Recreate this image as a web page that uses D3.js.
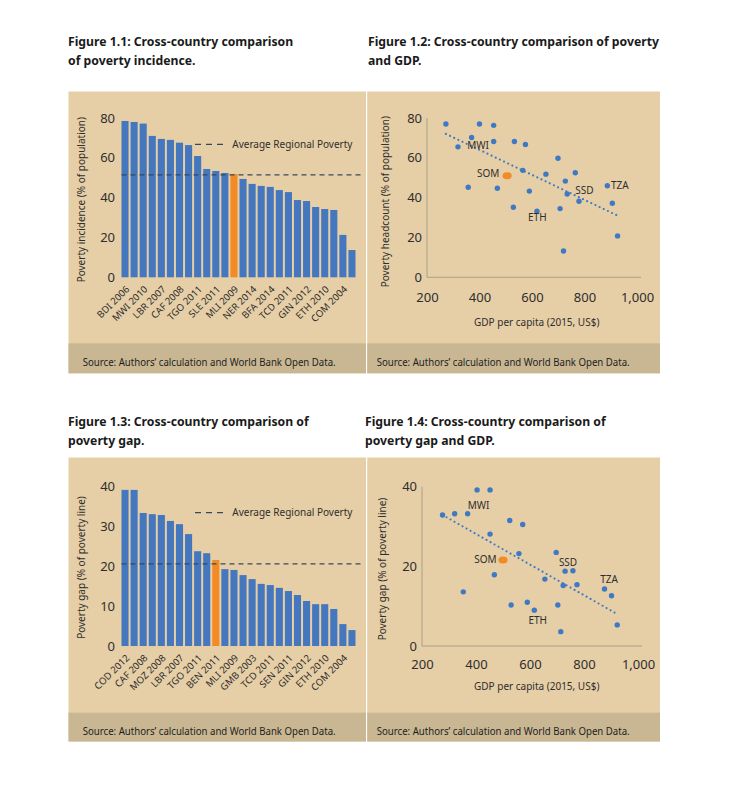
<!DOCTYPE html>
<html>
<head>
<meta charset="utf-8">
<script src="https://cdn.jsdelivr.net/npm/d3@7"></script>
<style>
    body { margin: 0; background: #fff; }
    svg { display: block; font-family: "Noto Sans", sans-serif; }
</style>
</head>
<body>
<svg id="page" width="743" height="786"></svg>
<script>

// ---- data ----
const incidenceLabels = ["BDI 2006", "MWI 2010", "LBR 2007", "CAF 2008", "TGO 2011", "SLE 2011", "MLI 2009",
    "NER 2014", "BFA 2014", "TCD 2011", "GIN 2012", "ETH 2010", "COM 2004"]
const incidenceValues = [78.5, 78.0, 77.2, 71.0, 69.5, 69.0, 67.6, 66.4, 60.9, 54.4, 53.4, 52.4, 51.9,
    49.4, 46.9, 45.9, 45.4, 43.8, 42.8, 38.8, 38.3, 35.3, 34.3, 33.8, 21.3, 13.7]
const incidenceHighlight = 12
const incidenceAverage = 51.4

const gapLabels = ["COD 2012", "CAF 2008", "MOZ 2008", "LBR 2007", "TGO 2011", "BEN 2011", "MLI 2009",
    "GMB 2003", "TCD 2011", "SEN 2011", "GIN 2012", "ETH 2010", "COM 2004"]
const gapValues = [39.2, 39.2, 33.4, 33.1, 32.9, 31.4, 30.6, 28.1, 23.8, 23.3, 21.6, 19.3, 19.1,
    17.8, 16.8, 15.6, 15.3, 14.6, 13.8, 12.8, 11.3, 10.5, 10.5, 9.3, 5.5, 4.0]
const gapHighlight = 10
const gapAverage = 20.6

const headcountGdp = [272, 400, 454, 370, 318, 454, 533, 575, 699, 565, 653, 765, 727,
    357, 468, 590, 734, 779, 887, 906, 529, 619, 707, 926, 720]
const headcountValue = [77, 77, 76.3, 70.2, 65.5, 68.2, 68.2, 66.7, 59.8, 53.7, 51.8, 52.5, 48.3,
    45.2, 44.7, 43.3, 41.8, 38.2, 46, 37.2, 35.2, 33.2, 34.5, 20.8, 13.2]
const headcountSom = { gdp: 505, value: 51 }
const headcountTrend = [{ gdp: 272, value: 72 }, { gdp: 932, value: 30.6 }]
const headcountNames = [
    { code: "MWI", gdp: 353, value: 64.4, anchor: "start" },
    { code: "SOM", gdp: 476, value: 50.2, anchor: "end" },
    { code: "SSD", gdp: 765, value: 41.6, anchor: "start" },
    { code: "TZA", gdp: 901, value: 44.1, anchor: "start" },
    { code: "ETH", gdp: 585, value: 28.1, anchor: "start" }
]

const gapGdp = [276, 321, 369, 404, 452, 452, 525, 573, 559, 468, 353, 530, 590,
    616, 655, 697, 730, 759, 723, 774, 703, 714, 876, 902, 923]
const gapValue = [32.9, 33.2, 33.2, 39.2, 39.2, 28.1, 31.5, 30.5, 23.2, 17.9, 13.6, 10.3, 11.0,
    9.0, 16.8, 23.5, 18.8, 18.9, 15.2, 15.4, 10.3, 3.6, 14.3, 12.6, 5.3]
const gapSom = { gdp: 500, value: 21.6 }
const gapTrend = [{ gdp: 276, value: 32.9 }, { gdp: 926, value: 7.9 }]
const gapNames = [
    { code: "MWI", gdp: 369, value: 34.5, anchor: "start" },
    { code: "SOM", gdp: 476, value: 20.8, anchor: "end" },
    { code: "SSD", gdp: 707, value: 20.1, anchor: "start" },
    { code: "TZA", gdp: 860, value: 15.8, anchor: "start" },
    { code: "ETH", gdp: 594, value: 5.5, anchor: "start" }
]

const gdpTicks = [200, 400, 600, 800, 1000]
const sourceText = "Source: Authors\u2019 calculation and World Bank Open Data."

// ---- style ----
const col = {
    bg: "#e6cfa6", band: "#c9b793", bar: "#4477be", hi: "#f28a26",
    avg: "#34495e", dot: "#3f79c3", text: "#2e2e2e", axis: "#a8a08c"
}

const svg = d3.select("#page")
svg.append("rect").attr("width", 743).attr("height", 786).attr("fill", "#fff")

function squeeze(sel, ratio) {
    sel.each(function () {
        let w = this.getComputedTextLength()
        d3.select(this).attr("textLength", w * ratio).attr("lengthAdjust", "spacingAndGlyphs")
    })
}

function panel(x0, x1, y0, y1, bandTop, srcX) {
    svg.append("rect").attr("x", x0).attr("y", y0).attr("width", x1 - x0).attr("height", y1 - y0).attr("fill", col.bg)
    svg.append("rect").attr("x", x0).attr("y", bandTop).attr("width", x1 - x0).attr("height", y1 - bandTop).attr("fill", col.band)
    let t = svg.append("text").attr("x", srcX).attr("y", bandTop + 22.5)
        .attr("font-size", 10.8).attr("fill", "#1e1e1e").text(sourceText)
    let w = t.node().getComputedTextLength()
    squeeze(t, 253 / w)
}

let titleRatio = null
function title(x, y, lines) {
    let texts = lines.map((l, i) => svg.append("text").attr("x", x).attr("y", y + i * 19.5)
        .attr("font-size", 13.2).attr("font-weight", "bold").attr("fill", "#1a1a1a").text(l))
    if (titleRatio === null) titleRatio = 291 / texts[0].node().getComputedTextLength()
    texts.forEach(t => squeeze(t, titleRatio))
}

function yTitle(cx, cy, label) {
    svg.append("text").attr("transform", `translate(${cx + 3.5},${cy}) rotate(-90)`)
        .attr("text-anchor", "middle").attr("font-size", 10).attr("fill", col.text).text(label)
}

function drawBars(cfg) {
    let x = d3.scaleBand().domain(d3.range(cfg.values.length)).range([121.5, 355.5]).paddingInner(0.22)
    let y = d3.scaleLinear().domain([0, cfg.max]).range([cfg.bottom, cfg.top])
    let g = svg.append("g")

    g.selectAll("rect").data(cfg.values).join("rect")
        .attr("x", (d, i) => x(i)).attr("width", x.bandwidth())
        .attr("y", d => y(d)).attr("height", d => y(0) - y(d))
        .attr("fill", (d, i) => i === cfg.highlight ? col.hi : col.bar)

    g.append("line").attr("x1", 121.5).attr("x2", 364).attr("y1", y(cfg.average)).attr("y2", y(cfg.average))
        .attr("stroke", col.avg).attr("stroke-width", 1.2).attr("stroke-dasharray", "5,4")

    let ya = g.append("g").attr("transform", "translate(121,0)")
        .call(d3.axisLeft(y).tickValues(cfg.ticks).tickSize(0).tickPadding(6))
    ya.select(".domain").remove()
    ya.selectAll("text").attr("font-size", 13).attr("font-family", "Noto Sans").attr("fill", col.text)

    let xa = g.append("g").attr("transform", `translate(0,${cfg.bottom})`)
        .call(d3.axisBottom(x).tickValues(d3.range(0, cfg.values.length, 2))
            .tickFormat(i => cfg.labels[i / 2]).tickSize(0))
    xa.select(".domain").remove()
    xa.selectAll("text").attr("y", 0).attr("dy", 0).attr("text-anchor", "end")
        .attr("transform", "translate(5,12.5) rotate(-45)")
        .attr("font-size", 9.6).attr("font-family", "Noto Sans").attr("fill", col.text)

    // legend
    let ly = y(cfg.legendAt)
    g.append("line").attr("x1", 195).attr("x2", 225).attr("y1", ly).attr("y2", ly)
        .attr("stroke", col.avg).attr("stroke-width", 1.2).attr("stroke-dasharray", "6,5")
    g.append("text").attr("x", 232.3).attr("y", ly + 3.6).attr("font-size", 10).attr("fill", col.text)
        .text("Average Regional Poverty")
}

function drawScatter(cfg) {
    let x = d3.scaleLinear().domain([200, 1000]).range(cfg.xr)
    let y = d3.scaleLinear().domain([0, cfg.max]).range([cfg.bottom, cfg.top])
    let g = svg.append("g")

    g.append("path").attr("d", `M${x(200)},${y(cfg.max)}V${y(0)}H${cfg.xr[1] + 4}`)
        .attr("fill", "none").attr("stroke", col.axis).attr("stroke-width", 1)

    let ya = g.append("g").attr("transform", `translate(${x(200)},0)`)
        .call(d3.axisLeft(y).tickValues(cfg.ticks).tickSize(0).tickPadding(5))
    ya.select(".domain").remove()
    ya.selectAll("text").attr("font-size", 13).attr("font-family", "Noto Sans").attr("fill", col.text)

    let xa = g.append("g").attr("transform", `translate(0,${y(0)})`)
        .call(d3.axisBottom(x).tickValues(gdpTicks).tickSize(0).tickPadding(cfg.xPad)
            .tickFormat(d3.format(",")))
    xa.select(".domain").remove()
    xa.selectAll("text").attr("font-size", 13).attr("font-family", "Noto Sans").attr("fill", col.text)

    let line = d3.line().x(d => x(d.gdp)).y(d => y(d.value))
    g.append("path").attr("d", line(cfg.trend)).attr("fill", "none").attr("stroke", col.dot)
        .attr("stroke-width", 2.2).attr("stroke-linecap", "round").attr("stroke-dasharray", "0,4.6")

    g.selectAll("circle").data(cfg.gdp).join("circle")
        .attr("cx", d => x(d)).attr("cy", (d, i) => y(cfg.values[i])).attr("r", 2.7).attr("fill", col.dot)

    g.append("ellipse").attr("cx", x(cfg.som.gdp)).attr("cy", y(cfg.som.value))
        .attr("rx", 4.6).attr("ry", 3.5).attr("fill", col.hi)

    g.selectAll(".name").data(cfg.names).join("text").attr("class", "name")
        .attr("x", d => x(d.gdp)).attr("y", d => y(d.value)).attr("text-anchor", d => d.anchor)
        .attr("font-size", 10).attr("fill", col.text).text(d => d.code)

    svg.append("text").attr("x", 536.7).attr("y", cfg.xTitleY).attr("text-anchor", "middle")
        .attr("font-size", 10).attr("fill", col.text).text("GDP per capita (2015, US$)")
}

// ---- page ----
panel(68.5, 366, 91.5, 373.3, 343.3, 82.7)
panel(367.2, 660, 91.5, 373.3, 343.3, 376.7)
panel(68.5, 366, 457.5, 741.5, 712.7, 82.7)
panel(367.2, 660, 457.5, 741.5, 712.7, 376.7)

title(368, 45.5, ["Figure 1.2: Cross-country comparison of poverty", "and GDP."])
title(68, 45.5, ["Figure 1.1: Cross-country comparison", "of poverty incidence."])
title(68, 425.5, ["Figure 1.3: Cross-country comparison of", "poverty gap."])
title(365, 425.5, ["Figure 1.4: Cross-country comparison of", "poverty gap and GDP."])

yTitle(81.7, 199.7, "Poverty incidence (% of population)")
yTitle(385, 201.7, "Poverty headcount (% of population)")
yTitle(81.7, 567.5, "Poverty gap (% of poverty line)")
yTitle(382.3, 569, "Poverty gap (% of poverty line)")

drawBars({ values: incidenceValues, labels: incidenceLabels, highlight: incidenceHighlight,
    average: incidenceAverage, max: 80, ticks: [0, 20, 40, 60, 80], top: 118, bottom: 277.3, legendAt: 66.8 })
drawBars({ values: gapValues, labels: gapLabels, highlight: gapHighlight,
    average: gapAverage, max: 40, ticks: [0, 10, 20, 30, 40], top: 486.7, bottom: 646, legendAt: 33.5 })

drawScatter({ gdp: headcountGdp, values: headcountValue, som: headcountSom, trend: headcountTrend,
    names: headcountNames, max: 80, ticks: [0, 20, 40, 60, 80], top: 118, bottom: 277.3,
    xr: [427, 637], xPad: 15.2, xTitleY: 326 })
drawScatter({ gdp: gapGdp, values: gapValue, som: gapSom, trend: gapTrend,
    names: gapNames, max: 40, ticks: [0, 20, 40], top: 486.7, bottom: 646,
    xr: [422, 638], xPad: 14, xTitleY: 690 })

</script>
</body>
</html>
